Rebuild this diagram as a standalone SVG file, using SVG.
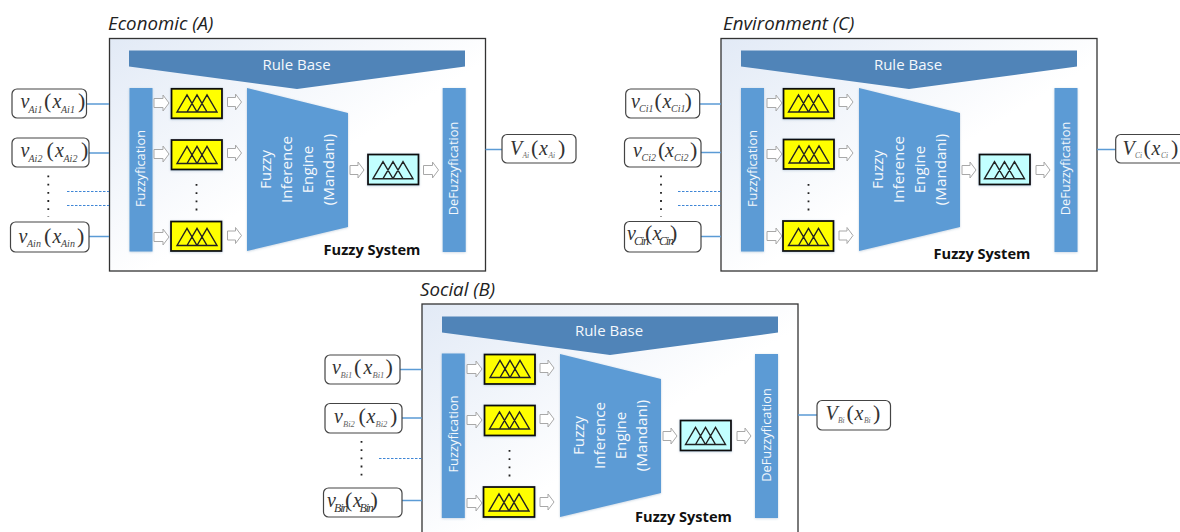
<svg xmlns="http://www.w3.org/2000/svg" xmlns:xlink="http://www.w3.org/1999/xlink" width="1180" height="532" viewBox="0 0 1180 532">
<style>
text{font-family:"Open Sans","Noto Sans","Liberation Sans",sans-serif}
.panel{stroke:#333;stroke-width:1.3;fill:url(#pg)}
.title{font-size:18.7px;font-style:italic;fill:#222}
.rb{fill:#5084b8}
.bl{fill:#5b9bd5;filter:url(#sh)}
.w{fill:#f4f8fc;text-anchor:middle}
.lab{font-size:15px}
.v{font-size:12.8px}
.eng{font-size:15.2px}
.sys{font-size:14.6px;font-weight:700;fill:#111;text-anchor:middle}
.yb{fill:#ffff00;stroke:#111;stroke-width:1.8;filter:url(#sh)}
.tb{fill:#c2ffff;stroke:#111;stroke-width:1.8;filter:url(#sh)}
.tri{fill:none;stroke:#222;stroke-width:1.4}
.arr{fill:#fff;stroke:#a8a8a8;stroke-width:1}
.box{fill:#fff;stroke:#444;stroke-width:1.2}
.f text,text.f{font-family:"Liberation Serif","DejaVu Serif",serif;font-size:20px;fill:#333}
.i{font-style:italic}
.p{font-size:22px}
.s{font-style:italic;font-size:10px;fill:#444}
.s2{font-style:italic;font-size:7.5px;fill:#666}
.s4{font-style:italic;font-size:8.5px;fill:#666}
.s3{font-style:italic;font-size:12px;fill:#333;letter-spacing:-1.2px}
.c{stroke:#5b9bd5;stroke-width:1.3;fill:none}
.d{stroke:#3f86d6;stroke-width:1.2;stroke-dasharray:2.5 1.5;fill:none}
.dots{stroke:#222;stroke-width:1.8;stroke-dasharray:1.8 6.4;fill:none}
</style>
<defs>
<linearGradient id="pg" x1="0" y1="0" x2="0.55" y2="0.55"><stop offset="0" stop-color="#e2eaf6"/><stop offset="1" stop-color="#fff"/></linearGradient>
<filter id="sh" x="-20%" y="-20%" width="140%" height="140%"><feDropShadow dx="0" dy="0.6" stdDeviation="1" flood-color="#5b7fa5" flood-opacity="0.35"/></filter>
<g id="tri" class="tri"><path d="M0 17L10 0L20 17ZM10 17L20 0L30 17ZM20 17L30 0L40 17Z"/></g>
<path id="ar" class="arr" d="M0 -4.5H9V-8L15 0L9 8V4.5H0Z"/>
<path id="ar2" class="arr" d="M0 -4.5H8V-8L14 0L8 8V4.5H0Z"/>
</defs>

<g id="titles">
<text class="title" x="108" y="30">Economic (A)</text>
<text class="title" x="723" y="30">Environment (C)</text>
<text class="title" x="420" y="296">Social (B)</text>
</g>

<g id="panel-A">
<rect class="panel" x="109.5" y="38.5" width="376" height="232.5"/>
<g id="rule-A"><polygon class="rb" points="129,50.5 465,50.5 465,66.5 297,89 129,66.5"/><text class="w lab" x="296.5" y="70">Rule Base</text></g>
<g id="fuzz-A"><rect class="bl" x="129.5" y="88" width="23" height="163.5"/><text class="w v" transform="translate(145,168.5) rotate(-90)">Fuzzyfication</text></g>
<g id="mf-A1"><use href="#ar" x="154" y="103"/><rect class="yb" x="171.5" y="88.8" width="50.5" height="29.5"/><use href="#tri" x="177" y="95"/><use href="#ar2" x="227.5" y="102"/></g>
<g id="mf-A2"><use href="#ar" x="154" y="154"/><rect class="yb" x="171.5" y="140" width="50.5" height="29.5"/><use href="#tri" x="177" y="146.5"/><use href="#ar2" x="227.5" y="153"/></g>
<path class="dots" d="M196.5 184V214"/>
<g id="mf-A3"><use href="#ar" x="154" y="237"/><rect class="yb" x="171" y="221.5" width="50.5" height="29.5"/><use href="#tri" x="177" y="228.5"/><use href="#ar2" x="227.5" y="235.5"/></g>
<g id="engine-A"><polygon class="bl" points="247,88 348,113 348,227 247,251"/>
<text class="w eng" transform="translate(271,169.5) rotate(-90)">Fuzzy</text>
<text class="w eng" transform="translate(292,169.5) rotate(-90)">Inference</text>
<text class="w eng" transform="translate(313,169.5) rotate(-90)">Engine</text>
<text class="w eng" transform="translate(334,169.5) rotate(-90)">(Mandani)</text></g>
<g id="out-mf-A"><use href="#ar2" x="350" y="170"/><rect class="tb" x="368" y="154.5" width="50.5" height="30"/><use href="#tri" x="373" y="161.7"/><use href="#ar" x="423.5" y="170"/></g>
<g id="defuzz-A"><rect class="bl" x="442.7" y="88" width="23" height="164"/><text class="w v" transform="translate(458,168.5) rotate(-90)">DeFuzzyfication</text></g>
<text class="sys" x="372" y="255">Fuzzy System</text>
</g>

<g id="panel-C">
<rect class="panel" x="721" y="38.5" width="376" height="232.5"/>
<g id="rule-C"><polygon class="rb" points="741,50.5 1077,50.5 1077,66.5 909,89 741,66.5"/><text class="w lab" x="908" y="70">Rule Base</text></g>
<g id="fuzz-C"><rect class="bl" x="741" y="88" width="23" height="163.5"/><text class="w v" transform="translate(757,168.5) rotate(-90)">Fuzzyfication</text></g>
<g id="mf-C1"><use href="#ar" x="767" y="103"/><rect class="yb" x="783.5" y="88.8" width="50.5" height="29.5"/><use href="#tri" x="788.5" y="95"/><use href="#ar2" x="839" y="102"/></g>
<g id="mf-C2"><use href="#ar" x="767" y="154"/><rect class="yb" x="783.5" y="139.5" width="50.5" height="29.5"/><use href="#tri" x="789" y="146"/><use href="#ar2" x="839" y="153"/></g>
<path class="dots" d="M808.5 184V214"/>
<g id="mf-C3"><use href="#ar" x="767" y="236"/><rect class="yb" x="783" y="221" width="50.5" height="30"/><use href="#tri" x="788.5" y="228.5"/><use href="#ar2" x="839" y="235.5"/></g>
<g id="engine-C"><polygon class="bl" points="859,88 960,113 960,227 859,251"/>
<text class="w eng" transform="translate(883,169.5) rotate(-90)">Fuzzy</text>
<text class="w eng" transform="translate(904,169.5) rotate(-90)">Inference</text>
<text class="w eng" transform="translate(925,169.5) rotate(-90)">Engine</text>
<text class="w eng" transform="translate(946,169.5) rotate(-90)">(Mandani)</text></g>
<g id="out-mf-C"><use href="#ar2" x="962" y="170"/><rect class="tb" x="979.5" y="154.5" width="50.5" height="30"/><use href="#tri" x="984.5" y="161.7"/><use href="#ar2" x="1036" y="170"/></g>
<g id="defuzz-C"><rect class="bl" x="1054.5" y="88" width="23" height="164"/><text class="w v" transform="translate(1070,168.5) rotate(-90)">DeFuzzyfication</text></g>
<text class="sys" x="982" y="259">Fuzzy System</text>
</g>

<g id="panel-B">
<rect class="panel" x="422" y="304" width="376" height="240"/>
<g id="rule-B"><polygon class="rb" points="442,316.5 778,316.5 778,332.5 610,355 442,332.5"/><text class="w lab" x="609" y="336">Rule Base</text></g>
<g id="fuzz-B"><rect class="bl" x="441.8" y="353.5" width="23" height="164.5"/><text class="w v" transform="translate(457.5,434) rotate(-90)">Fuzzyfication</text></g>
<g id="mf-B1"><use href="#ar" x="467" y="369"/><rect class="yb" x="484.5" y="354.5" width="50.5" height="29.5"/><use href="#tri" x="490" y="360.5"/><use href="#ar2" x="540" y="368"/></g>
<g id="mf-B2"><use href="#ar" x="467" y="420"/><rect class="yb" x="484.5" y="405.5" width="50.5" height="30"/><use href="#tri" x="489.5" y="412"/><use href="#ar2" x="540" y="419"/></g>
<path class="dots" d="M509.5 450V480"/>
<g id="mf-B3"><use href="#ar" x="467" y="503"/><rect class="yb" x="483.5" y="487" width="51" height="30"/><use href="#tri" x="489" y="494"/><use href="#ar2" x="540" y="502"/></g>
<g id="engine-B"><polygon class="bl" points="560,354 661,379 661,493 560,517"/>
<text class="w eng" transform="translate(584,435.5) rotate(-90)">Fuzzy</text>
<text class="w eng" transform="translate(605,435.5) rotate(-90)">Inference</text>
<text class="w eng" transform="translate(626,435.5) rotate(-90)">Engine</text>
<text class="w eng" transform="translate(647,435.5) rotate(-90)">(Mandani)</text></g>
<g id="out-mf-B"><use href="#ar2" x="663" y="436"/><rect class="tb" x="680.5" y="420.5" width="50.5" height="30"/><use href="#tri" x="685.5" y="427.5"/><use href="#ar2" x="737" y="436"/></g>
<g id="defuzz-B"><rect class="bl" x="755" y="354" width="23" height="164"/><text class="w v" transform="translate(770.5,435) rotate(-90)">DeFuzzyfication</text></g>
<text class="sys" x="683.5" y="522">Fuzzy System</text>
</g>

<g id="connectors">
<path class="c" d="M87 104H109M89 153H109M89 236.5H109M485.5 149.5H502"/>
<path class="d" d="M67 191.5H109M67 205.5H109"/>
<path class="c" d="M700 104H721M701 152.5H721M701 236.5H721M1097 149.5H1116"/>
<path class="d" d="M678 191.5H721M678 205.5H721"/>
<path class="c" d="M400 369.5H422M402 418H422M402 500.5H422M798 415H817"/>
<path class="d" d="M379 458.5H422"/>
</g>

<g id="dots-left">
<path class="dots" d="M48.3 175.5V217"/>
<path class="dots" d="M661 175.5V217"/>
<path class="dots" d="M361.5 441V482"/>
</g>

<g id="in-A1" class="f"><rect class="box" x="12" y="89" width="74.5" height="29" rx="5"/><text y="108"><tspan class="i" x="20.5">v</tspan><tspan class="s" x="28.5" y="113">Ai1</tspan><tspan class="p" x="44" y="108">(</tspan><tspan class="i" x="52.5">x</tspan><tspan class="s" x="61" y="113">Ai1</tspan><tspan class="p" x="78" y="108">)</tspan></text></g>
<g id="in-A2" class="f"><rect class="box" x="12" y="138" width="77" height="29" rx="5"/><text y="157"><tspan class="i" x="20.5">v</tspan><tspan class="s" x="28.5" y="162">Ai2</tspan><tspan class="p" x="46.5" y="157">(</tspan><tspan class="i" x="55">x</tspan><tspan class="s" x="63.5" y="162">Ai2</tspan><tspan class="p" x="81" y="157">)</tspan></text></g>
<g id="in-A3" class="f"><rect class="box" x="10.5" y="222" width="78.5" height="30" rx="5"/><text y="243"><tspan class="i" x="18.5">v</tspan><tspan class="s" x="27" y="247">Ain</tspan><tspan class="p" x="44" y="243">(</tspan><tspan class="i" x="52.5">x</tspan><tspan class="s" x="61" y="247">Ain</tspan><tspan class="p" x="77" y="243">)</tspan></text></g>
<g id="out-A" class="f"><rect class="box" x="502" y="134.5" width="74" height="28.5" rx="5"/><text y="155"><tspan class="i" x="510">V</tspan><tspan class="s2" x="522.5" y="157.5">Ai</tspan><tspan class="p" x="531" y="155">(</tspan><tspan class="i" x="539">x</tspan><tspan class="s2" x="548.5" y="157.5">Ai</tspan><tspan class="p" x="558" y="155">)</tspan></text></g>

<g id="in-C1" class="f"><rect class="box" x="625.7" y="89" width="74" height="29" rx="5"/><text y="108"><tspan class="i" x="631">v</tspan><tspan class="s" x="639" y="112">Ci1</tspan><tspan class="p" x="654.5" y="108">(</tspan><tspan class="i" x="662.5">x</tspan><tspan class="s" x="671" y="112">Ci1</tspan><tspan class="p" x="684.5" y="108">)</tspan></text></g>
<g id="in-C2" class="f"><rect class="box" x="624.5" y="138" width="76.5" height="29" rx="5"/><text y="157"><tspan class="i" x="633">v</tspan><tspan class="s" x="641.5" y="161">Ci2</tspan><tspan class="p" x="658" y="157">(</tspan><tspan class="i" x="665">x</tspan><tspan class="s" x="674" y="161">Ci2</tspan><tspan class="p" x="690" y="157">)</tspan></text></g>
<g id="in-C3" class="f"><rect class="box" x="624.5" y="221.5" width="76.5" height="30.5" rx="5"/><text y="240"><tspan class="i" x="627">v</tspan><tspan class="s3" x="634" y="244.5">Cin</tspan><tspan class="p" x="645" y="240">(</tspan><tspan class="i" x="652.5">x</tspan><tspan class="s3" x="659" y="244.5">Cin</tspan><tspan class="p" x="670" y="240">)</tspan></text></g>
<g id="out-C" class="f"><rect class="box" x="1115.7" y="134.5" width="70" height="28.5" rx="5"/><text y="155"><tspan class="i" x="1122.5">V</tspan><tspan class="s2" x="1135" y="157.5">Ci</tspan><tspan class="p" x="1143.5" y="155">(</tspan><tspan class="i" x="1151.5">x</tspan><tspan class="s2" x="1161" y="157.5">Ci</tspan><tspan class="p" x="1171" y="155">)</tspan></text></g>

<g id="in-B1" class="f"><rect class="box" x="325" y="355" width="75" height="29" rx="5"/><text y="374"><tspan class="i" x="332">v</tspan><tspan class="s4" x="340.5" y="378">Bi1</tspan><tspan class="p" x="354" y="374">(</tspan><tspan class="i" x="363.5">x</tspan><tspan class="s4" x="372.5" y="378">Bi1</tspan><tspan class="p" x="385.5" y="374">)</tspan></text></g>
<g id="in-B2" class="f"><rect class="box" x="325" y="403.5" width="77" height="29.5" rx="5"/><text y="422.5"><tspan class="i" x="334">v</tspan><tspan class="s4" x="343" y="426.5">Bi2</tspan><tspan class="p" x="358.5" y="422.5">(</tspan><tspan class="i" x="366.5">x</tspan><tspan class="s4" x="375.5" y="426.5">Bi2</tspan><tspan class="p" x="390" y="422.5">)</tspan></text></g>
<g id="in-B3" class="f"><rect class="box" x="323.5" y="488" width="78.5" height="29" rx="5"/><text y="507"><tspan class="i" x="327">v</tspan><tspan class="s3" x="334" y="511.5">Bin</tspan><tspan class="p" x="345" y="507">(</tspan><tspan class="i" x="353">x</tspan><tspan class="s3" x="359.5" y="511.5">Bin</tspan><tspan class="p" x="370.5" y="507">)</tspan></text></g>
<g id="out-B" class="f"><rect class="box" x="817" y="400.5" width="73.5" height="29.5" rx="5"/><text y="420"><tspan class="i" x="825.5">V</tspan><tspan class="s2" x="838" y="423">Bi</tspan><tspan class="p" x="846.5" y="420">(</tspan><tspan class="i" x="854.5">x</tspan><tspan class="s2" x="864" y="423">Bi</tspan><tspan class="p" x="873" y="420">)</tspan></text></g>
</svg>
